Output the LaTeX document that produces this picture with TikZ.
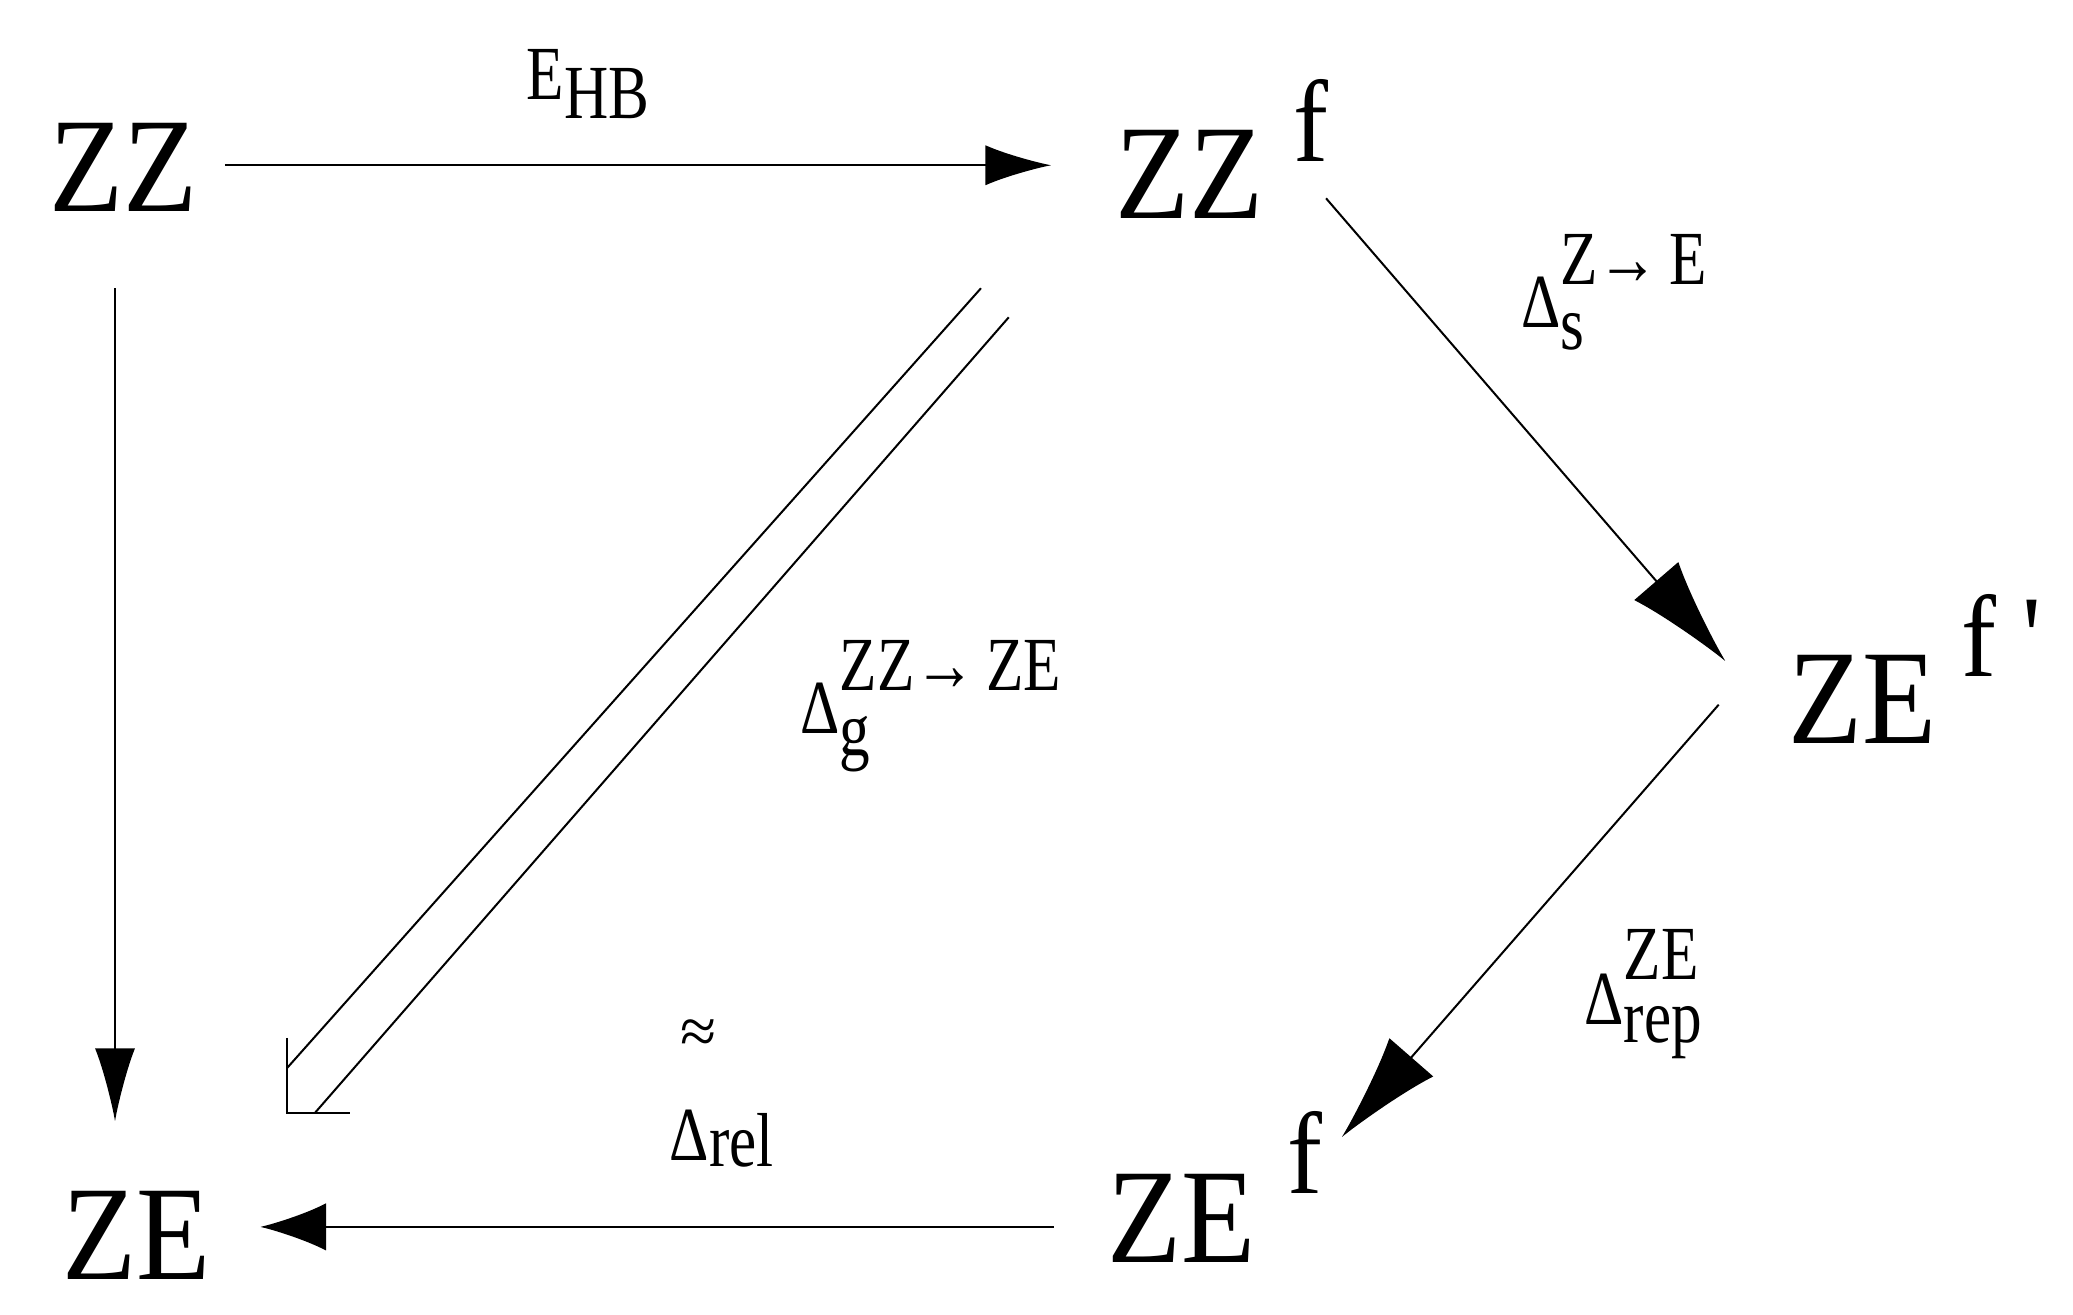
\documentclass[tikz,border=0pt]{standalone}
\usepackage{fontspec}
\setmainfont{Liberation Serif}
\usetikzlibrary{arrows.meta}
\newcommand\bigtxt[1]{\scalebox{0.9}[1]{\fontsize{37}{37}\selectfont #1}}
\newcommand\supf[1]{\scalebox{0.9}[1]{\fontsize{32}{32}\selectfont #1}}
\newcommand\lab[4]{\scalebox{0.8}[1]{\fontsize{21}{21}\selectfont Δ\rlap{\raisebox{#2}{#4}}\raisebox{-#1}{#3}}}
\begin{document}
\begin{tikzpicture}[x=0.012755cm,y=-0.012755cm,
  txt/.style={inner sep=0pt,anchor=base west},
  ln/.style={line width=0.55pt}]
\useasboundingbox (0,0) rectangle (1568,994);
\node[txt] (zz) at (37,160) {\bigtxt{ZZ}};
\node[txt] (zzf) at (843,165) {\bigtxt{ZZ}};
\node[txt] (zzfs) at (978,122) {\supf{f}};
\node[txt] (zefp) at (1352,562) {\bigtxt{ZE}};
\node[txt] (zefps) at (1483,512) {\supf{f \textquotesingle}};
\node[txt] (ze) at (47,968) {\bigtxt{ZE}};
\node[txt] (zef) at (837,955) {\bigtxt{ZE}};
\node[txt] (zefs) at (973,903) {\supf{f}};
\node[txt] (ehb) at (398,75) {\scalebox{0.8}[1]{\fontsize{21}{21}\selectfont E\raisebox{-5.4pt}{HB}}};
\node[txt] (ls) at (1150,248) {\lab{6pt}{12pt}{s}{Z→\,E}};
\node[txt] (lg) at (605,555) {\lab{6pt}{12pt}{g}{ZZ→\,ZE}};
\node[txt] (lrep) at (1198,775) {\lab{5pt}{12.5pt}{rep}{ZE}};
\node[txt] (lrel) at (506,878) {\lab{1.5pt}{0pt}{rel}{}};
\node[txt] (approx) at (514,797) {\fontsize{18}{18}\selectfont ≈};
\coordinate (a1) at (170,125); \coordinate (a2) at (795,125);
\coordinate (b1) at (1003,150); \coordinate (b2) at (1305,500);
\coordinate (c1) at (1300,533); \coordinate (c2) at (1015,860);
\coordinate (d1) at (797,928); \coordinate (d2) at (197,928);
\coordinate (e1) at (87,218); \coordinate (e2) at (87,848);
\draw[ln,-{Latex[length=18pt,width=11pt]}] (a1) -- (a2);
\draw[ln,-{Latex[length=29pt,width=16pt]}] (b1) -- (b2);
\draw[ln,-{Latex[length=29pt,width=16pt]}] (c1) -- (c2);
\draw[ln,-{Latex[length=18pt,width=13pt]}] (d1) -- (d2);
\draw[ln,-{Latex[length=20pt,width=11pt]}] (e1) -- (e2);
\coordinate (g1) at (742,218); \coordinate (g2) at (217,808);
\coordinate (h1) at (763,240); \coordinate (h2) at (238,842);
\coordinate (k1) at (217,785); \coordinate (k2) at (217,842); \coordinate (k3) at (265,842);
\draw[ln] (g1) -- (g2);
\draw[ln] (h1) -- (h2);
\draw[ln] (k1) -- (k2) -- (k3);
\end{tikzpicture}
\end{document}
